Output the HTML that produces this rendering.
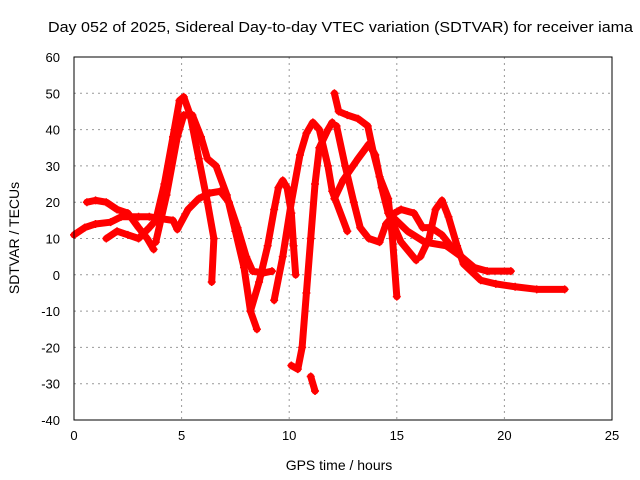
<!DOCTYPE html>
<html><head><meta charset="utf-8"><style>
body{margin:0;background:#fff;}
svg{display:block;font-family:"Liberation Sans",sans-serif;}
</style></head><body>
<svg id="chart" width="640" height="480">
<text x="48" y="32" font-size="15" textLength="585" lengthAdjust="spacingAndGlyphs">Day 052 of 2025, Sidereal Day-to-day VTEC variation (SDTVAR) for receiver iama</text>
<g id="grid"></g>
<g id="ticks"></g>
<g id="series"></g>
<rect x="74" y="57" width="538" height="363" fill="none" stroke="#000"/>
<text x="339" y="470" font-size="14" text-anchor="middle">GPS time / hours</text>
<text transform="translate(19,238) rotate(-90)" font-size="14" text-anchor="middle">SDTVAR / TECUs</text>
</svg>
<script>
const xTicks=[0,5,10,15,20,25];
const yTicks=[60,50,40,30,20,10,0,-10,-20,-30,-40];
const t1=[[0,11],[0.5,13],[1,14],[1.7,14.5],[2.2,16],[3,16],[3.5,16],[4,15.5],[4.6,15],[4.8,12.5],[5.3,18],[5.8,21],[6.3,22.5],[6.8,23],[7.2,20],[7.6,13],[8,5],[8.3,1],[8.8,0.5],[9.2,1]];
const t2=[[0.6,20],[1,20.5],[1.5,20],[2,18],[2.5,17],[3,13],[3.4,10],[3.7,7]];
const t3=[[1.5,10],[2,12],[2.5,11],[3,10],[3.5,13],[3.8,15],[4.2,25],[4.6,38],[4.9,48],[5.1,49],[5.4,44],[5.8,32],[6.2,20],[6.5,10],[6.4,-2]];
const t4=[[3.8,9],[4.3,22],[4.8,38],[5.1,44],[5.5,44],[5.9,38],[6.2,32],[6.6,30],[7.1,22],[7.5,12],[7.9,2],[8.2,-10],[8.5,-15]];
const t5=[[8.2,-10],[8.6,-2],[9,8],[9.3,18],[9.5,24],[9.7,26],[9.9,24],[10.1,17],[10.2,8],[10.3,0]];
const t6=[[9.3,-7],[9.7,5],[10.1,20],[10.5,33],[10.8,39],[11.1,42],[11.4,40],[11.8,30],[12,23],[12.7,12]];
const t7=[[10.1,-25],[10.4,-26],[10.6,-20],[10.8,-5],[11,10],[11.2,25],[11.4,35],[11.8,40],[12,42]];
const t8=[[11,-28],[11.2,-32]];
const t9=[[12.1,50],[12.3,45],[12.7,44],[13.2,43],[13.65,41],[13.9,34],[14.2,27],[14.6,21],[14.8,10],[15,-6]];
const t10=[[12.1,21],[12.5,26],[13.2,32],[13.7,36],[14,33],[14.3,24],[14.6,17],[15.2,9],[15.9,4]];
const t11=[[12.2,41],[12.6,30],[13,20],[13.3,13],[13.7,10],[14.2,9],[14.5,14],[14.8,16],[15.5,12],[16.3,9],[17.3,8],[18,5],[18.6,2],[19.2,1],[20.3,1]];
const t12=[[14.9,17],[15.2,18],[15.8,17],[16.2,13],[16.6,13],[17.1,11],[17.5,8],[18,5]];
const t13=[[16.1,5],[16.5,10],[16.8,18],[17.1,20.5],[17.4,16],[17.8,8],[18.1,3],[18.9,-1.5],[19.6,-2.5],[20.5,-3.3],[21.5,-4],[22.8,-4]];
const tracks=[t1,t2,t3,t4,t5,t6,t7,t8,t9,t10,t11,t12,t13];
const NS='http://www.w3.org/2000/svg';
const X=h=>74+h*538/25, Y=v=>57+(60-v)*363/100;
const grid=document.getElementById('grid'),ticks=document.getElementById('ticks'),ser=document.getElementById('series');
function mk(tag,at,par){const e=document.createElementNS(NS,tag);for(const k in at)e.setAttribute(k,at[k]);par.appendChild(e);return e;}
xTicks.forEach(t=>{
 if(t>0&&t<25){const g=mk('line',{x1:X(t),x2:X(t),y1:57,y2:420,stroke:'#999','stroke-dasharray':'2,4'},grid);
 
 }
 const l=mk('text',{x:X(t),y:440,'font-size':13,'text-anchor':'middle'},ticks);l.textContent=t;
 
 
});
yTicks.forEach(t=>{
 if(t<60&&t>-40){const g=mk('line',{x1:74,x2:612,y1:Y(t),y2:Y(t),stroke:'#999','stroke-dasharray':'2,4'},grid);
 
 }
 const l=mk('text',{x:60,y:Y(t)+5,'font-size':13,'text-anchor':'end'},ticks);l.textContent=t;
 
 
});
tracks.forEach((tr,i)=>{
 const p=mk('polyline',{points:tr.map(d=>X(d[0])+','+Y(d[1])).join(' '),fill:'none',stroke:'#f00','stroke-width':7,'stroke-linejoin':'round','stroke-linecap':'round'},ser);
 
 
 tr.forEach(d=>{
  const m=mk('path',{d:`M${X(d[0])-4},${Y(d[1])}h8M${X(d[0])},${Y(d[1])-4}v8`,stroke:'#f00','stroke-width':1.5},ser);
  
  
 });
});
</script>
</body></html>
